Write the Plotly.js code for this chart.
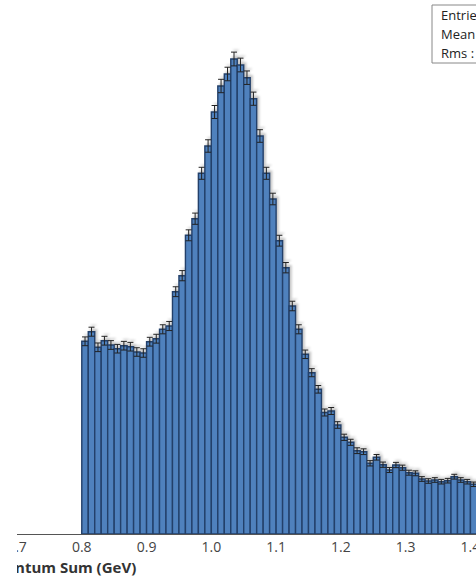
<!DOCTYPE html>
<html>
<head>
<meta charset="utf-8">
<script src="https://cdn.plot.ly/plotly-3.0.1.min.js"></script>
<style>
  html, body { margin: 0; padding: 0; background: #fff; overflow: hidden; width: 476px; height: 577px; }
  #frame { position: absolute; left: 17px; top: 0; width: 459px; height: 577px; overflow: hidden; }
  #chart { position: absolute; left: -80px; top: 0; }
  /* soft drop shadow under the histogram bars and error bars */
  #chart .barlayer .trace { filter: drop-shadow(2px -2px 1px rgba(0, 0, 0, 0.22)); }
</style>
</head>
<body>
<div id="frame"><div id="chart"></div></div>
<script>
// Histogram bins (centres, GeV), bin width 0.01
const binCenters = [
  0.805, 0.815, 0.825, 0.835, 0.845, 0.855, 0.865, 0.875, 0.885, 0.895,
  0.905, 0.915, 0.925, 0.935, 0.945, 0.955, 0.965, 0.975, 0.985, 0.995,
  1.005, 1.015, 1.025, 1.035, 1.045, 1.055, 1.065, 1.075, 1.085, 1.095,
  1.105, 1.115, 1.125, 1.135, 1.145, 1.155, 1.165, 1.175, 1.185, 1.195,
  1.205, 1.215, 1.225, 1.235, 1.245, 1.255, 1.265, 1.275, 1.285, 1.295,
  1.305, 1.315, 1.325, 1.335, 1.345, 1.355, 1.365, 1.375, 1.385, 1.395,
  1.405
];
const binWidth = 0.01;

// Entries per bin
const counts = [
  1927, 2023, 1867, 1933, 1890, 1853, 1883, 1873, 1820, 1810,
  1923, 1953, 2047, 2080, 2423, 2583, 2987, 3153, 3607, 3880,
  4220, 4480, 4600, 4750, 4690, 4563, 4353, 3980, 3607, 3350,
  2933, 2663, 2280, 2047, 1797, 1613, 1447, 1215, 1230, 1090,
   967,  917,  833,  823,  707,  767,  693,  640,  690,  663,
   613,  607,  550,  530,  540,  523,  533,  573,  540,  523,
   497
];

const xTitle = 'Momentum Sum (GeV)';
const xTicks = [0.7, 0.8, 0.9, 1.0, 1.1, 1.2, 1.3, 1.4, 1.5, 1.6];

// Summary statistics for the stats box
let n = 0, sx = 0, sxx = 0;
counts.forEach((c, i) => { n += c; sx += c * binCenters[i]; sxx += c * binCenters[i] * binCenters[i]; });
const mean = sx / n;
const rms = Math.sqrt(sxx / n - mean * mean);
const statsLines = ['Entries : ' + n, 'Mean : ' + mean.toFixed(4), 'Rms : ' + rms.toFixed(4)];

const font = 'Open Sans, Noto Sans, sans-serif';

const trace = {
  type: 'bar',
  x: binCenters,
  y: counts,
  width: binWidth,
  marker: { color: '#4F81BD', line: { color: '#23406A', width: 1.4 } },
  error_y: { type: 'sqrt', visible: true, color: '#222', thickness: 1, width: 3 },
  hoverinfo: 'x+y'
};

const statsAnn = statsLines.map((t, i) => ({
  xref: 'paper', yref: 'paper', x: 0, y: 1,
  xanchor: 'left', yanchor: 'middle',
  xshift: 422, yshift: 5 - 19 * i,
  text: t, showarrow: false,
  font: { family: font, size: 13, color: '#222' }
}));

const layout = {
  width: 683, height: 577,
  margin: { l: 80, r: 20, t: 20, b: 43 },
  paper_bgcolor: '#fff', plot_bgcolor: '#fff',
  bargap: 0, showlegend: false,
  xaxis: {
    range: [0.7, 1.6],
    tickvals: xTicks, tickformat: '.1f',
    showline: true, linecolor: '#555', linewidth: 1,
    ticks: 'inside', ticklen: 4, tickcolor: '#555',
    showgrid: false, zeroline: false,
    tickfont: { family: font, size: 14, color: '#444' },
    layer: 'below traces'
  },
  yaxis: {
    range: [0, 5140],
    showgrid: false, zeroline: false, showline: false,
    ticks: '', showticklabels: false
  },
  shapes: [{
    type: 'rect', xref: 'paper', yref: 'paper',
    xsizemode: 'pixel', ysizemode: 'pixel',
    xanchor: 0, yanchor: 1,
    x0: 415, x1: 560, y0: 15, y1: -43,
    line: { color: '#888', width: 1 }, fillcolor: '#fff'
  }],
  annotations: [{
    xref: 'paper', yref: 'paper', x: 0, y: 0,
    xanchor: 'right', yanchor: 'middle',
    xshift: 121, yshift: -33,
    text: '<b>' + xTitle + '</b>', showarrow: false,
    font: { family: font, size: 15, color: '#333' }
  }].concat(statsAnn)
};

Plotly.newPlot('chart', [trace], layout, { displayModeBar: false, staticPlot: true });
</script>
</body>
</html>
